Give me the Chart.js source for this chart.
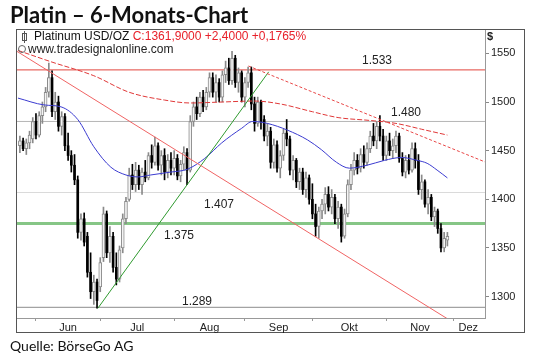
<!DOCTYPE html>
<html><head><meta charset="utf-8">
<script src="https://cdn.jsdelivr.net/npm/chart.js@4.4.0/dist/chart.umd.min.js"></script>
<style>
html,body{margin:0;padding:0;background:#fff;}
#wrap{position:relative;width:540px;height:358px;overflow:hidden;font-family:"Liberation Sans",Arial,sans-serif;}
#frame{position:absolute;left:16px;top:29px;width:507px;height:302px;border:1px solid #555;}
canvas{position:absolute;left:0;top:0;}
#title{position:absolute;left:10px;top:1px;font-family:Lato,"Liberation Sans",sans-serif;font-weight:bold;font-size:22px;color:#111;white-space:nowrap;}
#legend{position:absolute;left:20px;top:30px;font-size:12px;line-height:13px;color:#111;white-space:nowrap;}
#legend .red{color:#e8202a;}
#legend .ico{display:inline-block;width:3px;height:6px;border:1px solid #555;margin:0 7px 0 2px;position:relative;vertical-align:-1px;}
#legend .ico:before{content:"";position:absolute;left:1px;top:-3px;width:1px;height:12px;background:#555;}
#web{position:absolute;left:18px;top:43px;font-size:12px;line-height:13px;color:#222;white-space:nowrap;}
#web .ico{display:inline-block;width:6px;height:6px;border:1px solid #666;border-radius:50%;margin-right:2px;vertical-align:0px;}
#dollar{position:absolute;left:487px;top:30px;font-size:11px;font-weight:bold;color:#222;}
#source{position:absolute;left:10px;top:337px;font-family:Lato,"Liberation Sans",sans-serif;font-size:14px;color:#111;white-space:nowrap;}
</style></head>
<body>
<div id="wrap">
  <div id="frame"></div>
  <canvas id="c" width="540" height="358"></canvas>
  <div id="title">Platin – 6-Monats-Chart</div>
  <div id="legend"><span class="ico"></span>Platinum USD/OZ <span class="red">C:1361,9000 +2,4000 +0,1765%</span></div>
  <div id="web"><span class="ico"></span>www.tradesignalonline.com</div>
  <div id="dollar">$</div>
  <div id="source">Quelle: BörseGo AG</div>
</div>
<script>
// ---- data (x = trading-day index, 0 = 3 Jun 2013) ----
const firstIndex = -5;
const opens = [
1455,1460,1452,1458,1462,1480,1466,1486,1495,1510,
1525,1490,1500,1475,1485,1455,1445,1435,1420,1366,
1380,1362,1325,1305,1315,1310,1340,1385,1345,1362,
1330,1318,1350,1380,1400,1425,1415,1430,1415,1428,
1422,1445,1438,1455,1435,1445,1428,1440,1432,1442,
1424,1436,1448,1430,1480,1495,1488,1505,1495,1510,
1525,1510,1520,1505,1528,1535,1522,1545,1520,1530,
1505,1520,1530,1498,1478,1500,1482,1465,1470,1438,
1456,1432,1445,1468,1462,1430,1440,1418,1428,1410,
1422,1400,1385,1372,1388,1395,1405,1392,1402,1380,
1392,1362,1385,1415,1430,1440,1432,1446,1438,1452,
1465,1460,1475,1465,1445,1460,1450,1455,1465,1442,
1428,1440,1430,1452,1440,1410,1418,1395,1402,1382,
1388,1370,1350,1358];
const highs = [
1465,1463,1462,1470,1484,1488,1490,1500,1515,1540,
1532,1510,1506,1490,1488,1468,1450,1446,1424,1385,
1386,1366,1345,1322,1318,1340,1392,1388,1372,1366,
1345,1352,1385,1402,1432,1436,1438,1435,1432,1440,
1448,1456,1464,1458,1450,1452,1446,1448,1450,1446,
1440,1454,1452,1486,1500,1505,1510,1512,1515,1530,
1530,1528,1524,1532,1542,1545,1552,1548,1535,1532,
1525,1536,1536,1505,1505,1502,1486,1478,1474,1462,
1460,1450,1472,1482,1465,1445,1442,1432,1432,1428,
1425,1416,1395,1392,1400,1412,1413,1410,1405,1398,
1395,1390,1420,1436,1448,1446,1452,1455,1458,1470,
1478,1480,1486,1472,1465,1468,1462,1470,1468,1448,
1445,1446,1458,1458,1446,1425,1420,1410,1405,1392,
1390,1375,1366,1366];
const lows = [
1448,1450,1446,1452,1458,1462,1464,1478,1490,1505,
1485,1482,1470,1466,1450,1440,1428,1415,1360,1358,
1352,1320,1298,1292,1288,1305,1336,1340,1335,1325,
1312,1315,1345,1375,1398,1410,1408,1410,1405,1418,
1420,1432,1435,1430,1425,1420,1422,1425,1425,1420,
1418,1430,1415,1428,1475,1482,1485,1490,1492,1505,
1505,1500,1500,1500,1520,1518,1518,1515,1510,1500,
1495,1515,1492,1470,1475,1472,1460,1455,1432,1432,
1428,1422,1440,1455,1425,1420,1412,1410,1405,1402,
1395,1380,1362,1360,1380,1385,1388,1385,1375,1370,
1356,1360,1382,1410,1425,1426,1428,1432,1435,1448,
1455,1452,1460,1440,1440,1445,1442,1448,1438,1424,
1422,1426,1428,1432,1405,1400,1392,1385,1378,1372,
1365,1346,1346,1352];
const closes = [
1460,1452,1458,1466,1480,1466,1486,1495,1510,1525,
1490,1500,1475,1485,1455,1445,1435,1420,1366,1380,
1356,1325,1305,1315,1296,1335,1385,1345,1362,1330,
1318,1348,1380,1398,1425,1415,1430,1415,1428,1422,
1445,1438,1455,1435,1445,1428,1440,1432,1442,1424,
1436,1448,1430,1480,1495,1488,1505,1495,1510,1525,
1510,1520,1505,1528,1535,1522,1545,1520,1530,1505,
1520,1530,1498,1478,1500,1480,1465,1470,1438,1456,
1432,1445,1468,1462,1430,1440,1418,1428,1410,1422,
1400,1385,1372,1388,1395,1405,1392,1402,1380,1392,
1362,1385,1415,1430,1440,1432,1446,1438,1452,1465,
1460,1475,1465,1445,1460,1450,1455,1465,1442,1428,
1440,1430,1452,1440,1410,1418,1395,1402,1382,1388,
1370,1350,1360,1362];

// moving averages
const maBlueX = [-5.6,2.5,7.8,13,18,23.3,28,31.7,35.7,42,47.2,52.5,57.8,64,67.4,72,78.3,84.5,88.8,93.5,97.5,103,108.4,113.7,118.6,121.7,124.8,128];
const maBlueY = [1504,1497,1495,1482,1454,1433,1425,1423,1425,1428,1431,1442,1458,1473,1480,1478,1471,1461,1451,1438,1432,1435,1440,1443,1440,1437,1430,1422];
const maRedX = [-5.6,5,18,29,40,48,58,68,76,86,94,104,112,120,128];
const maRedY = [1553,1541,1527,1510,1502,1499,1500,1501,1498,1490,1484,1481,1478,1472,1466];

// trend lines
const lowerChannelX = [-5.9,128.6];
const lowerChannelY = [1552,1276];
const upperChannelX = [66.1,139.7];
const upperChannelY = [1537,1438.4];
const greenTrendX = [19.25,72.4];
const greenTrendY = [1288,1531];

// horizontal levels
const levels = [1533,1480,1407,1375,1289];

// axes
const xMin = -5.9, xMax = 139.7;
const yMin = 1278, yMax = 1574;
const yTicks = [1300,1350,1400,1450,1500,1550];
const monthNames = ['Jun','Jul','Aug','Sep','Okt','Nov','Dez'];
const monthLabelPos = [10,31.5,54,75.5,97.5,119.5,134.5];
const monthStarts = [0,20,43,65,86,109,130];

// ---- styles ----
const levelStyle = [
  {color:'#e2443c', width:1, lx:377, dy:-9},
  {color:'#b5b5b5', width:1, lx:406, dy:-9},
  {color:'#dadada', width:1, lx:219, dy:12},
  {color:'#86c686', width:3, lx:179, dy:12},
  {color:'#8c8c8c', width:1, lx:197, dy:-6}
];
const FONT = '"Liberation Sans", Arial, sans-serif';

const upBody=[], downBody=[], upWick=[], downWick=[];
for (let i=0;i<opens.length;i++){
  const x = firstIndex + i;
  const up = closes[i] >= opens[i];
  (up?upBody:downBody).push({x, y:[opens[i], closes[i]]});
  (up?upWick:downWick).push({x, y:[lows[i], highs[i]]});
}
const pts = (xs, ys) => xs.map((x,i)=>({x, y:ys[i]}));

const datasets = [];
levels.forEach((v,i)=>{
  datasets.push({type:'line', data:[{x:xMin,y:v},{x:xMax,y:v}], borderColor:levelStyle[i].color,
    borderWidth:levelStyle[i].width, pointRadius:0, order:20});
});
datasets.push({type:'bar', data:upWick, backgroundColor:'#8a8a8a', barThickness:1, grouped:false, order:12});
datasets.push({type:'bar', data:downWick, backgroundColor:'#000', barThickness:1, grouped:false, order:12});
datasets.push({type:'bar', data:upBody, backgroundColor:'#f4f4f4', borderColor:'#8a8a8a', borderWidth:1, borderSkipped:false, barThickness:3, grouped:false, order:11});
datasets.push({type:'bar', data:downBody, backgroundColor:'#000', barThickness:2, grouped:false, order:11});
datasets.push({type:'line', data:pts(maBlueX,maBlueY), borderColor:'#3b3bd0', borderWidth:1, pointRadius:0, cubicInterpolationMode:'monotone', order:3});
datasets.push({type:'line', data:pts(maRedX,maRedY), borderColor:'#e03838', borderWidth:1, borderDash:[5,2], pointRadius:0, cubicInterpolationMode:'monotone', order:3});
datasets.push({type:'line', data:pts(lowerChannelX,lowerChannelY), borderColor:'#f06464', borderWidth:1, pointRadius:0, order:2});
datasets.push({type:'line', data:pts(upperChannelX,upperChannelY), borderColor:'#e84848', borderWidth:1, borderDash:[3,2], pointRadius:0, order:2});
datasets.push({type:'line', data:pts(greenTrendX,greenTrendY), borderColor:'#2f9a2f', borderWidth:1, pointRadius:0, order:2});

const fmt = n => String(n).replace(/(\d)(\d{3})$/, '$1.$2');
const levelLabels = {
  id:'levelLabels',
  afterDatasetsDraw(chart){
    const {ctx, scales:{y}} = chart;
    ctx.save();
    ctx.font = '12px ' + FONT;
    ctx.fillStyle = '#222';
    ctx.textAlign = 'center';
    ctx.textBaseline = 'middle';
    levels.forEach((v,i)=>ctx.fillText(fmt(v), levelStyle[i].lx, y.getPixelForValue(v)+levelStyle[i].dy));
    ctx.restore();
  }
};

new Chart(document.getElementById('c'), {
  type:'bar',
  data:{datasets},
  plugins:[levelLabels],
  options:{
    responsive:false, animation:false, events:[],
    layout:{padding:{left:17, top:30, right:16, bottom:25}},
    plugins:{legend:{display:false}, tooltip:{enabled:false}},
    scales:{
      x:{type:'linear', position:'bottom', min:xMin, max:xMax, weight:1, offset:false,
        grid:{display:false, drawTicks:false, offset:false}, border:{display:false},
        afterBuildTicks:s=>{s.ticks = monthLabelPos.map(v=>({value:v}));},
        ticks:{callback:(v,i)=>monthNames[i], autoSkip:false, maxRotation:0, padding:3,
          font:{family:FONT, size:11}, color:'#222'},
        afterFit:s=>{s.height = 15;}},
      x2:{type:'linear', position:'bottom', min:xMin, max:xMax, weight:0, offset:false,
        grid:{drawOnChartArea:false, tickLength:3, color:'#999', offset:false}, border:{display:true, color:'#999'},
        ticks:{display:false},
        afterBuildTicks:s=>{s.ticks = monthStarts.map(v=>({value:v}));},
        afterFit:s=>{s.height = 0;}},
      y:{type:'linear', position:'right', min:yMin, max:yMax,
        afterBuildTicks:s=>{s.ticks = yTicks.map(v=>({value:v}));},
        ticks:{padding:2, font:{family:FONT, size:11}, color:'#222', callback:v=>String(v)},
        grid:{drawOnChartArea:false, tickLength:4, color:'#888'}, border:{color:'#999'},
        afterFit:s=>{s.width = 39;}}
    }
  }
});
</script>
</body></html>
